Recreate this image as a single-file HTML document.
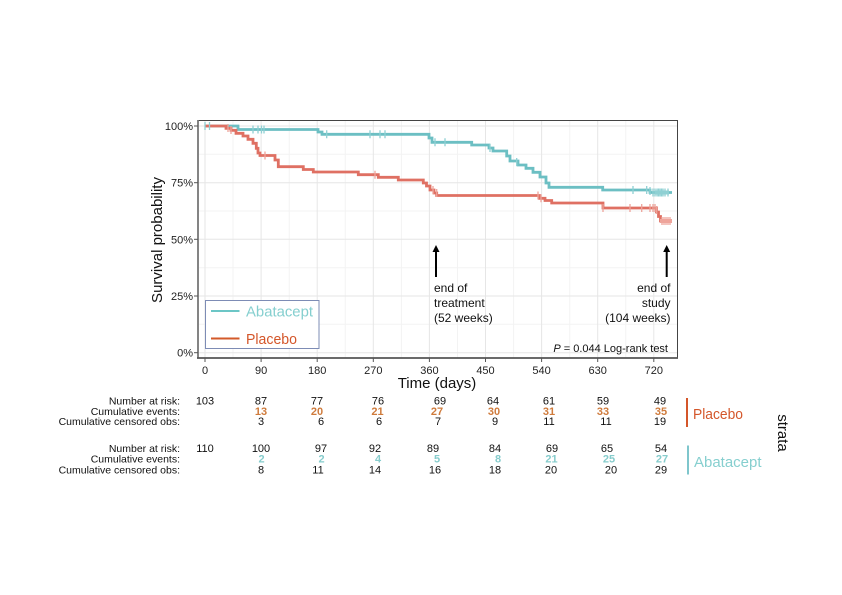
<!DOCTYPE html>
<html><head><meta charset="utf-8"><style>
html,body{margin:0;padding:0;background:#fff;}
svg{display:block;font-family:"Liberation Sans",sans-serif;}
</style></head><body>
<svg width="842" height="595" viewBox="0 0 842 595" xmlns="http://www.w3.org/2000/svg">
<rect width="842" height="595" fill="#fff"/>
<!-- minor grid -->
<g stroke="#f3f3f3" stroke-width="1">
<line x1="198" x2="678" y1="154.3" y2="154.3"/><line x1="198" x2="678" y1="211" y2="211"/>
<line x1="198" x2="678" y1="267.7" y2="267.7"/><line x1="198" x2="678" y1="324.3" y2="324.3"/>
<line y1="120" y2="358" x1="233" x2="233"/><line y1="120" y2="358" x1="289.2" x2="289.2"/>
<line y1="120" y2="358" x1="345.3" x2="345.3"/><line y1="120" y2="358" x1="401.4" x2="401.4"/>
<line y1="120" y2="358" x1="457.5" x2="457.5"/><line y1="120" y2="358" x1="513.6" x2="513.6"/>
<line y1="120" y2="358" x1="569.7" x2="569.7"/><line y1="120" y2="358" x1="625.8" x2="625.8"/>
</g>
<!-- major grid -->
<g stroke="#e6e6e6" stroke-width="1">
<line x1="198" x2="678" y1="126" y2="126"/><line x1="198" x2="678" y1="182.7" y2="182.7"/>
<line x1="198" x2="678" y1="239.3" y2="239.3"/><line x1="198" x2="678" y1="296" y2="296"/>
<line x1="198" x2="678" y1="352.7" y2="352.7"/>
<line y1="120" y2="358" x1="205" x2="205"/><line y1="120" y2="358" x1="261.1" x2="261.1"/>
<line y1="120" y2="358" x1="317.2" x2="317.2"/><line y1="120" y2="358" x1="373.3" x2="373.3"/>
<line y1="120" y2="358" x1="429.4" x2="429.4"/><line y1="120" y2="358" x1="485.5" x2="485.5"/>
<line y1="120" y2="358" x1="541.6" x2="541.6"/><line y1="120" y2="358" x1="597.7" x2="597.7"/>
<line y1="120" y2="358" x1="653.8" x2="653.8"/>
</g>
<!-- panel border -->
<rect x="198" y="120.5" width="479.5" height="237.5" fill="none" stroke="#444" stroke-width="1"/>
<line x1="198" x2="198" y1="120" y2="358.5" stroke="#777" stroke-width="1.8"/>
<line x1="197" x2="678" y1="358" y2="358" stroke="#555" stroke-width="1.8"/>
<!-- ticks -->
<g stroke="#555" stroke-width="1">
<line x1="194" x2="198" y1="126" y2="126"/><line x1="194" x2="198" y1="182.7" y2="182.7"/>
<line x1="194" x2="198" y1="239.3" y2="239.3"/><line x1="194" x2="198" y1="296" y2="296"/>
<line x1="194" x2="198" y1="352.7" y2="352.7"/>
<line y1="358" y2="362" x1="205" x2="205"/><line y1="358" y2="362" x1="261.1" x2="261.1"/>
<line y1="358" y2="362" x1="317.2" x2="317.2"/><line y1="358" y2="362" x1="373.3" x2="373.3"/>
<line y1="358" y2="362" x1="429.4" x2="429.4"/><line y1="358" y2="362" x1="485.5" x2="485.5"/>
<line y1="358" y2="362" x1="541.6" x2="541.6"/><line y1="358" y2="362" x1="597.7" x2="597.7"/>
<line y1="358" y2="362" x1="653.8" x2="653.8"/>
</g>
<!-- tick labels -->
<g font-size="11" fill="#222" text-anchor="end">
<text x="193" y="130">100%</text><text x="193" y="186.7">75%</text>
<text x="193" y="243.3">50%</text><text x="193" y="300">25%</text><text x="193" y="356.7">0%</text>
</g>
<g font-size="11" fill="#222" text-anchor="middle">
<text x="205" y="374">0</text><text x="261.1" y="374">90</text><text x="317.2" y="374">180</text>
<text x="373.3" y="374">270</text><text x="429.4" y="374">360</text><text x="485.5" y="374">450</text>
<text x="541.6" y="374">540</text><text x="597.7" y="374">630</text><text x="653.8" y="374">720</text>
</g>
<text x="437" y="388" font-size="15" text-anchor="middle" fill="#111">Time (days)</text>
<text transform="translate(162,240) rotate(-90)" font-size="15" text-anchor="middle" fill="#111">Survival probability</text>

<!-- curves -->
<path d="M205,126 H238 V129.5 H318 V132 H322 V134.3 H429 V138 H432 V142.3 H471.7 V145 H489 V148 H493 V151 H506.7 V156 H510 V161 H518 V165 H526 V168.3 H533 V172.3 H540 V177 H546 V183 H549 V187.3 H602.7 V190 H650 V192.5 H672" fill="none" stroke="#6cbfc3" stroke-width="2.8"/>
<path d="M205,126 H226 V128.3 H231 V130.3 H236 V133.3 H243 V136 H248 V139.3 H253 V143.3 H256.3 V148.3 H258 V153 H260 V155.5 H275 V160 H278.3 V166.7 H303.3 V169.5 H313.3 V172 H358.3 V174.7 H378.3 V177.3 H398.3 V180 H423.3 V183 H426.5 V186 H430 V190 H434 V193 H436.7 V195.5 H539.5 V198.3 H545 V200.5 H551.7 V203 H603 V208 H656.5 V212 H658.5 V216.5 H660.5 V221 H672" fill="none" stroke="#df7063" stroke-width="2.8"/>
<!-- censor marks teal -->
<g stroke="#8fd0d3" stroke-width="1.3">
<path d="M205,122v8M209.5,122v8M253,125.5v8M258,125.5v8M261.5,125.5v8M264,125.5v8M326.7,130.3v8M370,130.3v8M380,130.3v8M385,130.3v8M435,138.3v8M445,138.3v8M490,144v8M516.7,158v8M633,186v8M646.7,186v8M650,187v8M653,188.5v8M655,188.5v8M657,188.5v8M658.5,188.5v8M660,188.5v8M661.5,188.5v8M663,188.5v8M665,188.5v8M668,188.5v8"/>
<path d="M655,192.5h14" stroke-width="4"/>
</g>
<!-- censor marks red -->
<g stroke="#eea49b" stroke-width="1.3">
<path d="M228,124v8M231,126v8M265,151.5v8M375,170.7v8M433,186v8M436.7,189v8M538,191.5v8M541,194.3v8M603,204v8M630,204v8M641.7,204v8M650,204v8M653,204v8M655,204v8M656.7,206v8M662,217v8M664,217v8M666,217v8M668,217v8M670,217v8"/>
<path d="M660,221h12" stroke-width="4"/>
</g>

<!-- arrows -->
<g stroke="#000" stroke-width="2">
<line x1="436" x2="436" y1="251" y2="277"/>
<line x1="666.7" x2="666.7" y1="251" y2="277"/>
</g>
<path d="M432.5,252 L436,245 L439.5,252 Z" fill="#000"/>
<path d="M663.2,252 L666.7,245 L670.2,252 Z" fill="#000"/>
<g font-size="12" fill="#111">
<text x="434" y="292">end of</text><text x="434" y="307">treatment</text><text x="434" y="322">(52 weeks)</text>
</g>
<g font-size="12" fill="#111" text-anchor="end">
<text x="670.5" y="292">end of</text><text x="670.5" y="307">study</text><text x="670.5" y="322">(104 weeks)</text>
</g>
<text x="668" y="352" font-size="11" fill="#111" text-anchor="end"><tspan font-style="italic">P</tspan> = 0.044 Log-rank test</text>

<!-- legend -->
<rect x="205.5" y="300.5" width="113.5" height="48" fill="#fff" stroke="#7d8cb5" stroke-width="1"/>
<line x1="211" x2="239.5" y1="311" y2="311" stroke="#6cc6c6" stroke-width="2"/>
<line x1="211" x2="239.5" y1="338.5" y2="338.5" stroke="#d35a2a" stroke-width="2"/>
<text x="246" y="316.5" font-size="15" fill="#85cfcf" textLength="67" lengthAdjust="spacingAndGlyphs">Abatacept</text>
<text x="246" y="344" font-size="15" fill="#d4562a" textLength="51" lengthAdjust="spacingAndGlyphs">Placebo</text>

<!-- risk table labels -->
<g font-size="10.5" fill="#111" text-anchor="end">
<text x="180" y="404.5">Number at risk:</text>
<text x="180" y="415">Cumulative events:</text>
<text x="180" y="425">Cumulative censored obs:</text>
<text x="180" y="452">Number at risk:</text>
<text x="180" y="462.5">Cumulative events:</text>
<text x="180" y="473.5">Cumulative censored obs:</text>
</g>
<g font-size="11" fill="#111" text-anchor="middle">
<text x="205" y="404.5">103</text><text x="261" y="404.5">87</text><text x="317" y="404.5">77</text><text x="378" y="404.5">76</text><text x="440" y="404.5">69</text><text x="493" y="404.5">64</text><text x="549" y="404.5">61</text><text x="603" y="404.5">59</text><text x="660" y="404.5">49</text>
<text x="261" y="425">3</text><text x="321" y="425">6</text><text x="379" y="425">6</text><text x="438" y="425">7</text><text x="495" y="425">9</text><text x="549" y="425">11</text><text x="606" y="425">11</text><text x="660" y="425">19</text>
<text x="205" y="452">110</text><text x="261" y="452">100</text><text x="321" y="452">97</text><text x="375" y="452">92</text><text x="433" y="452">89</text><text x="495" y="452">84</text><text x="552" y="452">69</text><text x="607" y="452">65</text><text x="661" y="452">54</text>
<text x="261" y="473.5">8</text><text x="318" y="473.5">11</text><text x="375" y="473.5">14</text><text x="435" y="473.5">16</text><text x="495" y="473.5">18</text><text x="551" y="473.5">20</text><text x="611" y="473.5">20</text><text x="661" y="473.5">29</text>
</g>
<g font-size="11" font-weight="bold" fill="#cf7b3c" text-anchor="middle">
<text x="261" y="415">13</text><text x="317" y="415">20</text><text x="377.5" y="415">21</text><text x="437" y="415">27</text><text x="494" y="415">30</text><text x="549" y="415">31</text><text x="603" y="415">33</text><text x="661" y="415">35</text>
</g>
<g font-size="11" font-weight="bold" fill="#86cccc" text-anchor="middle">
<text x="261.5" y="462.5">2</text><text x="321.5" y="462.5">2</text><text x="378" y="462.5">4</text><text x="437" y="462.5">5</text><text x="498" y="462.5">8</text><text x="551.5" y="462.5">21</text><text x="609" y="462.5">25</text><text x="662" y="462.5">27</text>
</g>

<!-- strata -->
<line x1="687" x2="687" y1="398" y2="427" stroke="#d4562a" stroke-width="2"/>
<text x="693" y="419" font-size="15" fill="#d4562a" textLength="50" lengthAdjust="spacingAndGlyphs">Placebo</text>
<line x1="688" x2="688" y1="445.5" y2="474.5" stroke="#7fc6cc" stroke-width="2"/>
<text x="694" y="467" font-size="15" fill="#86cfcf" textLength="67.5" lengthAdjust="spacingAndGlyphs">Abatacept</text>
<text transform="translate(778,433) rotate(90)" font-size="15" text-anchor="middle" fill="#111">strata</text>
</svg>
</body></html>
